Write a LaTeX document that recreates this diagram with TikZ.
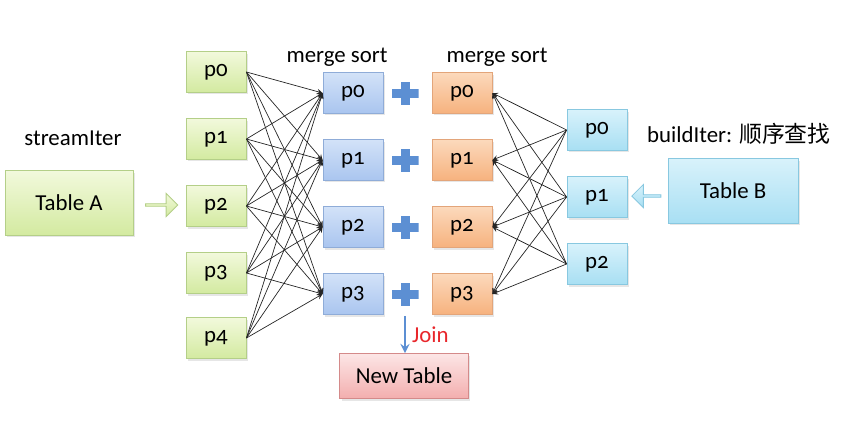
\documentclass[tikz,border=0pt]{standalone}
\usepackage{fontspec}
\setmainfont{Carlito}[Numbers=OldStyle]
\newfontfamily\cjk{Noto Sans CJK SC}
\usetikzlibrary{shapes.arrows,shadows}

\definecolor{grnTop}{HTML}{F2F9DC}
\definecolor{grnBot}{HTML}{D3EAA0}
\definecolor{grnLine}{HTML}{B4CF88}
\definecolor{bluTop}{HTML}{D3E2F8}
\definecolor{bluBot}{HTML}{A9C5EF}
\definecolor{bluLine}{HTML}{8FACD8}
\definecolor{orgTop}{HTML}{FCD9BC}
\definecolor{orgBot}{HTML}{F6B27E}
\definecolor{orgLine}{HTML}{E3A57A}
\definecolor{cyaTop}{HTML}{D8F2FB}
\definecolor{cyaBot}{HTML}{A8DFF3}
\definecolor{cyaLine}{HTML}{88C8E0}
\definecolor{pnkTop}{HTML}{FCE6E6}
\definecolor{pnkBot}{HTML}{F3AEAE}
\definecolor{pnkLine}{HTML}{D48A8A}
\definecolor{plusBlue}{HTML}{5C8FD3}
\definecolor{joinRed}{HTML}{E8262B}

\tikzset{
  box/.style={draw, line width=0.5pt, inner sep=0pt, minimum width=1.2cm, minimum height=0.82cm,
    drop shadow={opacity=0.2, shadow xshift=0.04cm, shadow yshift=-0.04cm}},
  grnbox/.style={box, draw=grnLine, top color=grnTop, bottom color=grnBot},
  blubox/.style={box, draw=bluLine, top color=bluTop, bottom color=bluBot},
  orgbox/.style={box, draw=orgLine, top color=orgTop, bottom color=orgBot},
  cyabox/.style={box, draw=cyaLine, top color=cyaTop, bottom color=cyaBot},
  pnkbox/.style={box, draw=pnkLine, top color=pnkTop, bottom color=pnkBot},
  link/.style={-stealth, line width=0.4pt, black!85},
  plussign/.style={minimum width=0.54cm, minimum height=0.46cm, inner sep=0pt,
    path picture={
      \fill[plusBlue] ([xshift=-0.27cm,yshift=-0.09cm]path picture bounding box.center)
        rectangle ([xshift=0.27cm,yshift=0.09cm]path picture bounding box.center);
      \fill[plusBlue] ([xshift=-0.09cm,yshift=-0.23cm]path picture bounding box.center)
        rectangle ([xshift=0.09cm,yshift=0.23cm]path picture bounding box.center);
    }},
  blockarrow/.style={single arrow, draw, line width=0.5pt, inner sep=0pt,
    minimum width=0.46cm, single arrow head extend=0.07cm}
}

\begin{document}
\begin{tikzpicture}[x=0.02cm, y=-0.02cm, font=\fontsize{13}{15}\selectfont]
        \useasboundingbox (0,0) rectangle (855,423);

        % left side: table A and its partitions
        \node at (73,138) (lblA) {streamIter};
        \node[grnbox, minimum width=2.56cm, minimum height=1.3cm] (ta) at (69,203) {Table A};
        \node[blockarrow, draw=grnLine, top color=grnTop, bottom color=grnBot,
              minimum height=0.64cm] (arrA) at (161,205) {};

        \node[grnbox] (a0) at (216,72) {p0};
        \node[grnbox] (a1) at (216,139) {p1};
        \node[grnbox] (a2) at (216,206) {p2};
        \node[grnbox] (a3) at (216,273) {p3};
        \node[grnbox] (a4) at (216,338) {p4};

        % merge sort columns
        \node at (337,57) (msL) {merge sort};
        \node at (497,57) (msR) {merge sort};
        \node[blubox] (b0) at (353,93) {p0};
        \node[blubox] (b1) at (353,160) {p1};
        \node[blubox] (b2) at (353,227) {p2};
        \node[blubox] (b3) at (353,294) {p3};

        \node[plussign] (s0) at (405,93) {};
        \node[plussign] (s1) at (405,160) {};
        \node[plussign] (s2) at (405,227) {};
        \node[plussign] (s3) at (405,294) {};

        \node[orgbox] (c0) at (462,93) {p0};
        \node[orgbox] (c1) at (462,160) {p1};
        \node[orgbox] (c2) at (462,227) {p2};
        \node[orgbox] (c3) at (462,294) {p3};

        % right side: table B and its partitions
        \node[cyabox] (d0) at (597,130) {p0};
        \node[cyabox] (d1) at (597,197) {p1};
        \node[cyabox] (d2) at (597,264) {p2};

        \node[anchor=west] at (641,134) (lblB) {buildIter: {\cjk 顺序查找}};
        \node[cyabox, minimum width=2.6cm, minimum height=1.3cm] (tb) at (733,191) {Table B};
        \node[blockarrow, draw=cyaLine, top color=cyaTop, bottom color=cyaBot,
              minimum height=0.58cm, shape border rotate=180] (arrB) at (647,196) {};

        % result
        \node[pnkbox, minimum width=2.58cm, minimum height=0.9cm] (nt) at (404,376) {New Table};
        \draw[-stealth, plusBlue, line width=1.3pt] ([yshift=-0.2cm]s3.south) -- (s3.south |- nt.north)
            node[midway, right, text=joinRed] (join) {Join};

        % shuffle links
        \foreach \i in {0,...,4}
            \foreach \j in {0,...,3}
                \draw[link] (a\i.east) -- (b\j.west);
        \foreach \i in {0,1,2}
            \foreach \j in {0,...,3}
                \draw[link] (d\i.west) -- (c\j.east);
    \end{tikzpicture}
\end{document}
